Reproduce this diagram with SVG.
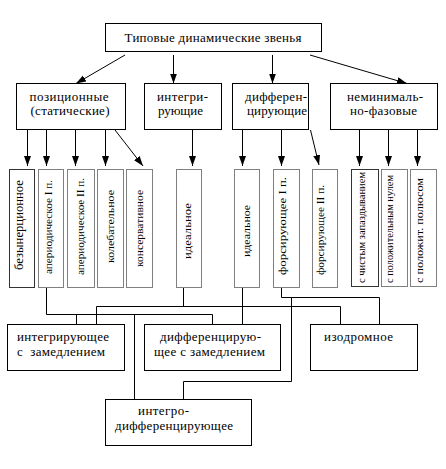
<svg xmlns="http://www.w3.org/2000/svg" width="446" height="469" viewBox="0 0 446 469">
<defs>
<marker id="ah" markerUnits="userSpaceOnUse" markerWidth="11" markerHeight="8" refX="10" refY="3.5" orient="auto">
<path d="M0,0 L10,3.5 L0,7 z" fill="#000"/>
</marker>
<style>
rect{fill:#fff;stroke:#000;stroke-width:1}
rect.v{stroke:#808080}
rect.vd{stroke:#333}
text{font-family:"Liberation Serif","Times New Roman",serif;font-size:13px;fill:#000}
text.s{font-size:10px;text-anchor:middle}
text.b{font-size:12px;text-anchor:middle}
text.m{text-anchor:middle}
.c path,.c line{fill:none;stroke:#000;stroke-width:1}
.c .a{marker-end:url(#ah)}
</style>
</defs>
<rect x="0" y="0" width="446" height="469" style="fill:#fff;stroke:none"/>

<g id="root">
<rect x="105.5" y="23.5" width="216" height="28"/>
<text class="m" x="213" y="42" textLength="177" lengthAdjust="spacing">Типовые динамические звенья</text>
</g>

<g id="pos">
<rect x="16.5" y="83.5" width="109" height="46"/>
<text class="m" x="69" y="101" textLength="79" lengthAdjust="spacing">позиционные</text>
<text class="m" x="70" y="115" textLength="79" lengthAdjust="spacing">(статические)</text>
</g>
<g id="int">
<rect x="144.5" y="83.5" width="77" height="46"/>
<text x="157" y="101" textLength="51" lengthAdjust="spacing">интегри-</text>
<text x="158" y="115" textLength="45" lengthAdjust="spacing">рующие</text>
</g>
<g id="dif">
<rect x="232.5" y="83.5" width="76" height="46"/>
<text x="245" y="101" textLength="62" lengthAdjust="spacing">дифферен-</text>
<text x="247" y="115" textLength="60" lengthAdjust="spacing">цирующие</text>
</g>
<g id="nmf">
<rect x="330.5" y="83.5" width="107" height="46"/>
<text x="347" y="101" textLength="76" lengthAdjust="spacing">неминималь-</text>
<text x="350" y="115" textLength="67" lengthAdjust="spacing">но-фазовые</text>
</g>

<g id="bez">
<rect class="vd" x="9.5" y="169.5" width="25" height="118"/>
<text class="b" transform="translate(23,225) rotate(-90)" textLength="90" lengthAdjust="spacingAndGlyphs">безынерционное</text>
</g>
<g id="aper1">
<rect class="v" x="38.5" y="169.5" width="25" height="118"/>
<text class="s" transform="translate(52,227) rotate(-90)" textLength="94" lengthAdjust="spacingAndGlyphs">апериодическое I п.</text>
</g>
<g id="aper2">
<rect class="v" x="67.5" y="169.5" width="27" height="118"/>
<text class="s" transform="translate(84,226.5) rotate(-90)" textLength="97" lengthAdjust="spacingAndGlyphs">апериодическое II п.</text>
</g>
<g id="kol">
<rect class="v" x="97.5" y="169.5" width="26" height="118"/>
<text class="s" transform="translate(114,226.5) rotate(-90)" textLength="73" lengthAdjust="spacingAndGlyphs">колебательное</text>
</g>
<g id="kons">
<rect class="v" x="126.5" y="169.5" width="26" height="118"/>
<text class="s" transform="translate(143,228.5) rotate(-90)" textLength="77" lengthAdjust="spacingAndGlyphs">консервативное</text>
</g>
<g id="id1">
<rect class="v" x="176.5" y="169.5" width="25" height="118"/>
<text class="s" transform="translate(191,231) rotate(-90)" textLength="56" lengthAdjust="spacingAndGlyphs">идеальное</text>
</g>
<g id="id2">
<rect class="v" x="234.5" y="169.5" width="25" height="118"/>
<text class="s" transform="translate(250,231) rotate(-90)" textLength="52" lengthAdjust="spacingAndGlyphs">идеальное</text>
</g>
<g id="f1">
<rect class="v" x="273.5" y="169.5" width="26" height="118"/>
<text class="s" transform="translate(286,226) rotate(-90)" textLength="98" lengthAdjust="spacingAndGlyphs">форсирующее I п.</text>
</g>
<g id="f2">
<rect class="v" x="312.5" y="169.5" width="25" height="118"/>
<text class="s" transform="translate(324,230) rotate(-90)" textLength="90" lengthAdjust="spacingAndGlyphs">форсирующее II п.</text>
</g>
<g id="z">
<rect class="vd" x="351.5" y="169.5" width="27" height="117"/>
<text class="s" transform="translate(365,227.5) rotate(-90)" textLength="111" lengthAdjust="spacingAndGlyphs">с чистым запаздыванием</text>
</g>
<g id="pn">
<rect class="v" x="381.5" y="169.5" width="26" height="117"/>
<text class="s" transform="translate(393,229) rotate(-90)" textLength="108" lengthAdjust="spacingAndGlyphs">с положительным нулем</text>
</g>
<g id="pp">
<rect class="v" x="410.5" y="169.5" width="26" height="117"/>
<text class="s" transform="translate(423,230.5) rotate(-90)" textLength="105" lengthAdjust="spacingAndGlyphs">с положит. полюсом</text>
</g>

<g id="isz">
<rect x="7.5" y="324.5" width="117" height="46"/>
<text x="17" y="341" textLength="92" lengthAdjust="spacing">интегрирующее</text>
<text x="17" y="356" xml:space="preserve" textLength="88" lengthAdjust="spacing">с  замедлением</text>
</g>
<g id="dsz">
<rect x="144.5" y="324.5" width="136" height="46"/>
<text x="160" y="341" textLength="101" lengthAdjust="spacing">дифференцирую-</text>
<text x="154" y="356" textLength="111" lengthAdjust="spacing">щее с замедлением</text>
</g>
<g id="izo">
<rect x="310.5" y="324.5" width="107" height="46"/>
<text x="324" y="341" textLength="69" lengthAdjust="spacing">изодромное</text>
</g>
<g id="idf">
<rect x="105.5" y="399.5" width="146" height="46"/>
<text x="138" y="415" textLength="51" lengthAdjust="spacing">интегро-</text>
<text x="115" y="430" textLength="118" lengthAdjust="spacing">дифференцирующее</text>
</g>

<g class="c" id="connectors">
<line class="a" x1="125" y1="55" x2="76" y2="83.5"/>
<line class="a" x1="173.5" y1="55" x2="173.5" y2="83.5"/>
<line class="a" x1="272.5" y1="55" x2="272.5" y2="83.5"/>
<line class="a" x1="310" y1="55" x2="407" y2="83.5"/>

<line class="a" x1="27.5" y1="130" x2="27.5" y2="166"/>
<line class="a" x1="46.5" y1="130" x2="46.5" y2="166"/>
<line class="a" x1="75.5" y1="130" x2="75.5" y2="166"/>
<line class="a" x1="105.5" y1="130" x2="105.5" y2="166"/>
<line class="a" x1="115" y1="130" x2="143" y2="166"/>
<line class="a" x1="192.5" y1="130" x2="192.5" y2="166"/>
<line class="a" x1="242.5" y1="130" x2="242.5" y2="166"/>
<line class="a" x1="281.5" y1="130" x2="281.5" y2="166"/>
<line class="a" x1="310.5" y1="130" x2="319" y2="165"/>
<line class="a" x1="359.5" y1="130" x2="359.5" y2="166"/>
<line class="a" x1="388.5" y1="130" x2="388.5" y2="166"/>
<line class="a" x1="417.5" y1="130" x2="417.5" y2="166"/>

<path d="M46.5,288 V314.5 H212.5 V324"/>
<path d="M76.5,314.5 V324"/>
<path d="M134.5,314.5 V399"/>
<path d="M183.5,288 V306.5"/>
<path d="M96.5,324 V306.5 H340.5 V324"/>
<path d="M242.5,288 V324"/>
<path d="M281.5,288 V297.5 H379.5 V324"/>
<path d="M291.5,297.5 V381.5 H183.5 V399"/>
</g>
</svg>
